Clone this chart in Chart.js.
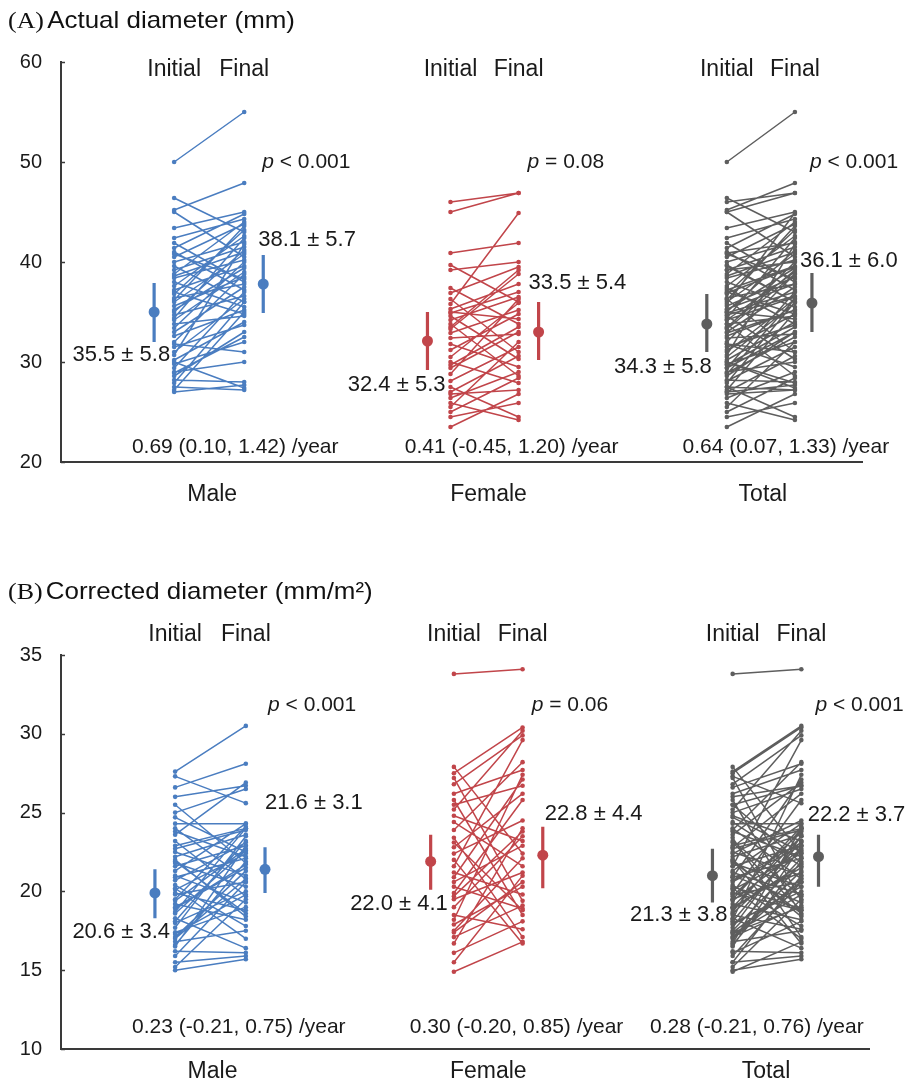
<!DOCTYPE html>
<html lang="en">
<head>
<meta charset="UTF-8">
<title>Actual and corrected diameter</title>
<script src="https://cdn.jsdelivr.net/npm/chart.js@4.4.1/dist/chart.umd.min.js"></script>
<style>
  body { margin: 0; background: #fff; width: 907px; height: 1087px; position: relative; overflow: hidden;
         font-family: "Liberation Sans", Arial, sans-serif; }
  .panel { position: absolute; left: 0; width: 907px; }
  .title { position: absolute; left: 8px; font-size: 24px; color: #111; white-space: nowrap; z-index: 2;
           transform: scaleX(1.08); transform-origin: left center; }
  .title .tag { font-family: "Liberation Serif", "Times New Roman", serif; margin-right: 3px; }
</style>
</head>
<body>
<div class="panel" style="top:0;height:530px"><canvas id="chartA" width="907" height="530"></canvas></div>
<div class="panel" style="top:570px;height:517px"><canvas id="chartB" width="907" height="517"></canvas></div>
<div class="title" style="top:6px"><span class="tag">(A)</span>Actual diameter (mm)</div>
<div class="title" style="top:577px"><span class="tag">(B)</span>Corrected diameter (mm/m²)</div>

<script>
// ---- data ----
const groups = ['Male', 'Female', 'Total'];
const timepoints = ['Initial', 'Final'];

// (A) actual diameter, mm
const maleInitA = [50.0, 46.4, 45.2, 45.0, 43.4, 42.4, 41.9, 41.4, 41.0, 40.5, 40.0, 39.6, 39.2, 38.8, 38.4, 38.0, 37.6, 37.2,
  36.8, 36.4, 36.0, 35.6, 35.0, 34.7, 34.2, 33.8, 33.4, 33.0, 32.6, 32.0, 31.5, 31.0, 30.7, 30.2, 29.8, 29.4, 29.0, 28.6,
  28.2, 27.9, 27.5, 27.2, 27.0, 38.6, 37.0, 35.2, 34.4, 40.8, 36.2, 31.8, 28.9, 30.0];
const maleFinalA = [55.0, 43.0, 47.9, 40.5, 45.0, 44.3, 38.0, 44.8, 37.2, 43.8, 42.0, 36.0, 41.5, 44.0, 40.2, 35.5, 42.6, 39.6,
  43.2, 37.8, 40.8, 38.5, 41.2, 36.6, 39.0, 34.6, 40.0, 37.5, 35.2, 38.8, 33.7, 36.3, 41.8, 34.0, 32.0, 37.0, 30.0, 33.0,
  28.0, 36.0, 27.2, 35.0, 27.7, 41.0, 34.8, 39.4, 42.4, 38.3, 43.6, 31.0, 32.5, 27.4];
const femaleInitA = [46.0, 45.0, 40.9, 39.7, 39.2, 37.4, 36.9, 36.3, 35.8, 35.3, 35.0, 34.6, 34.2, 33.8, 33.3, 32.9, 32.4, 31.8,
  31.2, 30.5, 30.0, 29.4, 28.8, 28.1, 27.5, 27.0, 26.4, 25.9, 25.5, 25.0, 24.5, 23.5, 34.9, 33.5, 29.7, 26.8];
const femaleFinalA = [46.9, 46.9, 41.9, 36.0, 40.0, 33.8, 39.5, 31.0, 44.9, 37.8, 34.3, 30.3, 36.5, 28.6, 38.8, 35.2, 32.8, 29.5,
  34.8, 35.9, 27.9, 33.0, 36.3, 31.5, 24.5, 30.6, 29.0, 24.2, 32.0, 28.4, 25.9, 26.8, 37.0, 39.2, 33.5, 27.2];
// group mean marker and error bar ends [initial, final]
const meanA = { Male: [35.0, 37.8], Female: [32.1, 33.0], Total: [33.8, 35.9] };
const lowA  = { Male: [32.0, 34.9], Female: [29.2, 30.2], Total: [31.0, 33.0] };
const highA = { Male: [37.9, 40.7], Female: [35.0, 36.0], Total: [36.8, 38.9] };
const sdTextA = { Male: ['35.5 ± 5.8', '38.1 ± 5.7'], Female: ['32.4 ± 5.3', '33.5 ± 5.4'], Total: ['34.3 ± 5.8', '36.1 ± 6.0'] };
const pTextA = { Male: '< 0.001', Female: '= 0.08', Total: '< 0.001' };
const rateTextA = { Male: '0.69 (0.10, 1.42) /year', Female: '0.41 (-0.45, 1.20) /year', Total: '0.64 (0.07, 1.33) /year' };
const yTicksA = [20, 30, 40, 50, 60];

// (B) corrected diameter, mm/m2
const maleInitB = [27.6, 27.3, 26.6, 26.0, 25.5, 25.0, 24.7, 24.3, 24.0, 23.6, 23.2, 22.9, 22.5, 22.2, 21.9, 21.6, 21.3, 21.0,
  20.7, 20.4, 20.1, 19.8, 19.5, 19.2, 18.9, 18.6, 18.3, 18.0, 17.7, 17.4, 17.1, 16.8, 16.5, 16.2, 15.9, 15.5, 15.2, 15.0,
  22.7, 21.8, 20.9, 19.9, 19.0, 18.1, 17.3, 16.6, 23.8, 20.2, 18.7, 17.0, 22.0, 19.4];
const maleFinalB = [30.5, 25.6, 28.1, 26.7, 21.8, 26.5, 22.5, 24.3, 20.8, 26.9, 19.7, 24.0, 21.0, 23.6, 18.6, 22.9, 24.3, 19.3,
  23.1, 17.8, 22.4, 20.6, 24.1, 18.2, 21.7, 22.6, 16.4, 20.0, 23.5, 19.0, 21.3, 17.5, 22.9, 16.1, 20.6, 15.9, 19.5, 15.7,
  23.9, 20.3, 22.1, 18.8, 21.5, 23.2, 19.8, 21.9, 22.2, 17.0, 24.0, 20.8, 18.4, 22.7];
const femaleInitB = [33.8, 27.9, 27.5, 27.2, 26.8, 26.2, 25.8, 25.2, 24.8, 24.4, 23.9, 23.4, 22.8, 22.4, 22.0, 21.6, 21.2, 20.9,
  20.6, 20.3, 19.9, 19.5, 19.0, 18.5, 18.2, 17.9, 17.5, 17.1, 16.7, 16.1, 15.5, 14.9, 25.5, 23.1, 19.7, 17.4];
const femaleFinalB = [34.1, 22.4, 30.4, 19.4, 29.9, 27.7, 18.5, 30.2, 23.2, 21.6, 28.2, 17.1, 26.2, 24.5, 16.7, 29.6, 19.8, 27.1,
  22.9, 18.9, 25.8, 21.2, 23.5, 17.6, 27.4, 20.3, 22.1, 19.1, 24.0, 18.1, 21.0, 16.8, 26.7, 18.8, 23.8, 20.6];
const meanB = { Male: [19.9, 21.4], Female: [21.9, 22.3], Total: [21.0, 22.2] };
const lowB  = { Male: [18.3, 19.9], Female: [20.1, 20.2], Total: [19.3, 20.3] };
const highB = { Male: [21.4, 22.8], Female: [23.6, 24.1], Total: [22.7, 23.6] };
const sdTextB = { Male: ['20.6 ± 3.4', '21.6 ± 3.1'], Female: ['22.0 ± 4.1', '22.8 ± 4.4'], Total: ['21.3 ± 3.8', '22.2 ± 3.7'] };
const pTextB = { Male: '< 0.001', Female: '= 0.06', Total: '< 0.001' };
const rateTextB = { Male: '0.23 (-0.21, 0.75) /year', Female: '0.30 (-0.20, 0.85) /year', Total: '0.28 (-0.21, 0.76) /year' };
const yTicksB = [10, 15, 20, 25, 30, 35];

// ---- layout / style ----
const colors = { Male: '#4a7dc0', Female: '#c1454a', Total: '#5e5e5e' };
const AXIS = '#3a3a3a';
const TEXT = '#1a1a1a';
const FONT = '"Liberation Sans", Arial, sans-serif';
const cols = { Male: [1.13, 1.83], Female: [3.89, 4.57], Total: [6.65, 7.33] };   // subject columns
const meanCols = { Male: [0.93, 2.02], Female: [3.66, 4.77], Total: [6.45, 7.50] };

function pairs(init, fin, x0, x1) {
  const pts = [];
  init.forEach((v, i) => pts.push({ x: x0, y: v }, { x: x1, y: fin[i] }, { x: x1, y: null }));
  return pts;
}
function bars(xs, lo, hi) {
  const pts = [];
  xs.forEach((x, i) => pts.push({ x: x, y: lo[i] }, { x: x, y: hi[i] }, { x: x, y: null }));
  return pts;
}

function buildDatasets(data, mean, low, high) {
  const ds = [];
  groups.forEach(g => {
    const [x0, x1] = cols[g];
    ds.push({
      label: g, data: pairs(data[g][0], data[g][1], x0, x1),
      borderColor: colors[g], backgroundColor: colors[g], borderWidth: 1.5,
      pointRadius: 2.3, pointBorderWidth: 0, spanGaps: false
    });
    ds.push({
      label: g + ' bar', data: bars(meanCols[g], low[g], high[g]),
      borderColor: colors[g], borderWidth: 3.2, pointRadius: 0, spanGaps: false
    });
    ds.push({
      label: g + ' mean', data: meanCols[g].map((x, i) => ({ x: x, y: mean[g][i] })),
      showLine: false, pointRadius: 5.5, pointBorderWidth: 0, backgroundColor: colors[g]
    });
  });
  return ds;
}

// text drawn at data coordinates through the chart's scales
const panelText = {
  id: 'panelText',
  afterDraw(chart, args, opts) {
    const { ctx, scales: { x, y } } = chart;
    ctx.save();
    // short inward tick marks on the y axis
    ctx.strokeStyle = AXIS;
    ctx.lineWidth = 1.5;
    y.ticks.forEach(t => {
      const py = Math.round(y.getPixelForValue(t.value)) + 0.5;
      ctx.beginPath(); ctx.moveTo(x.left, py); ctx.lineTo(x.left + 4, py); ctx.stroke();
    });
    ctx.fillStyle = TEXT;
    ctx.textBaseline = 'middle';
    opts.labels.forEach(l => {
      const px = x.getPixelForValue(l.x), py = y.getPixelForValue(l.y);
      const size = l.size || 21;
      if (l.p) {
        ctx.textAlign = 'left';
        ctx.font = 'italic ' + size + 'px ' + FONT;
        ctx.fillText('p', px, py);
        const w = ctx.measureText('p ').width;
        ctx.font = size + 'px ' + FONT;
        ctx.fillText(l.text, px + w, py);
      } else {
        ctx.font = size + 'px ' + FONT;
        ctx.textAlign = l.align || 'center';
        ctx.fillText(l.text, px, py);
      }
    });
    ctx.restore();
  }
};

function makeLabels(pos, sdText, pText, rateText) {
  const out = [];
  groups.forEach(g => {
    const p = pos[g];
    out.push({ text: timepoints[0], x: cols[g][0], y: pos.head, size: 23 });
    out.push({ text: timepoints[1], x: cols[g][1], y: pos.head, size: 23 });
    out.push({ text: pText[g], x: p.px, y: pos.pY, p: true });
    out.push({ text: sdText[g][0], x: p.s0x, y: p.s0y, align: 'right', size: 22 });
    out.push({ text: sdText[g][1], x: p.s1x, y: p.s1y, align: p.s1a || 'left', size: 22 });
    out.push({ text: rateText[g], x: p.rx, y: pos.rateY });
    out.push({ text: g, x: p.cx, y: pos.catY, size: 23 });
  });
  return out;
}

const posA = {
  head: 59.2, pY: 50.0, rateY: 21.5, catY: 16.7,
  Male:   { px: 2.01, s0x: 1.09, s0y: 30.7, s1x: 1.97, s1y: 42.2, rx: 1.74, cx: 1.51 },
  Female: { px: 4.66, s0x: 3.84, s0y: 27.7, s1x: 4.67, s1y: 37.9, rx: 4.50, cx: 4.27 },
  Total:  { px: 7.48, s0x: 6.50, s0y: 29.5, s1x: 7.38, s1y: 40.1, rx: 7.24, cx: 7.01 }
};
const posB = {
  head: 36.3, pY: 31.8, rateY: 11.4, catY: 8.54,
  Male:   { px: 2.05, s0x: 1.08, s0y: 17.4, s1x: 2.02, s1y: 25.6, rx: 1.76, cx: 1.50 },
  Female: { px: 4.66, s0x: 3.83, s0y: 19.2, s1x: 4.79, s1y: 24.9, rx: 4.51, cx: 4.23 },
  Total:  { px: 7.47, s0x: 6.60, s0y: 18.5, s1x: 8.36, s1y: 24.85, s1a: 'right', rx: 6.89, cx: 6.98 }
};

function makeChart(id, data, mean, low, high, yTicks, padding, labels) {
  return new Chart(document.getElementById(id), {
    type: 'line',
    data: { datasets: buildDatasets(data, mean, low, high) },
    options: {
      responsive: false, animation: false,
      layout: { padding: padding },
      plugins: { legend: { display: false }, tooltip: { enabled: false }, panelText: { labels: labels } },
      scales: {
        x: {
          type: 'linear', min: 0, max: 8,
          grid: { display: false, drawTicks: false },
          ticks: { display: false },
          border: { display: true, color: AXIS, width: 2 },
          afterFit: s => { s.height = 0; }
        },
        y: {
          type: 'linear', min: yTicks[0], max: yTicks[yTicks.length - 1],
          afterBuildTicks: s => { s.ticks = yTicks.map(v => ({ value: v })); },
          grid: { display: false, drawTicks: false },
          ticks: { color: TEXT, padding: 19, font: { family: FONT, size: 20 } },
          border: { display: true, color: AXIS, width: 2 },
          afterFit: s => { s.width = 61; }
        }
      }
    },
    plugins: [panelText]
  });
}

makeChart('chartA',
  { Male: [maleInitA, maleFinalA], Female: [femaleInitA, femaleFinalA],
    Total: [maleInitA.concat(femaleInitA), maleFinalA.concat(femaleFinalA)] },
  meanA, lowA, highA, yTicksA, { left: 0, right: 45, top: 62, bottom: 68 },
  makeLabels(posA, sdTextA, pTextA, rateTextA));

makeChart('chartB',
  { Male: [maleInitB, maleFinalB], Female: [femaleInitB, femaleFinalB],
    Total: [maleInitB.concat(femaleInitB), maleFinalB.concat(femaleFinalB)] },
  meanB, lowB, highB, yTicksB, { left: 0, right: 38, top: 85, bottom: 38 },
  makeLabels(posB, sdTextB, pTextB, rateTextB));
</script>
</body>
</html>
